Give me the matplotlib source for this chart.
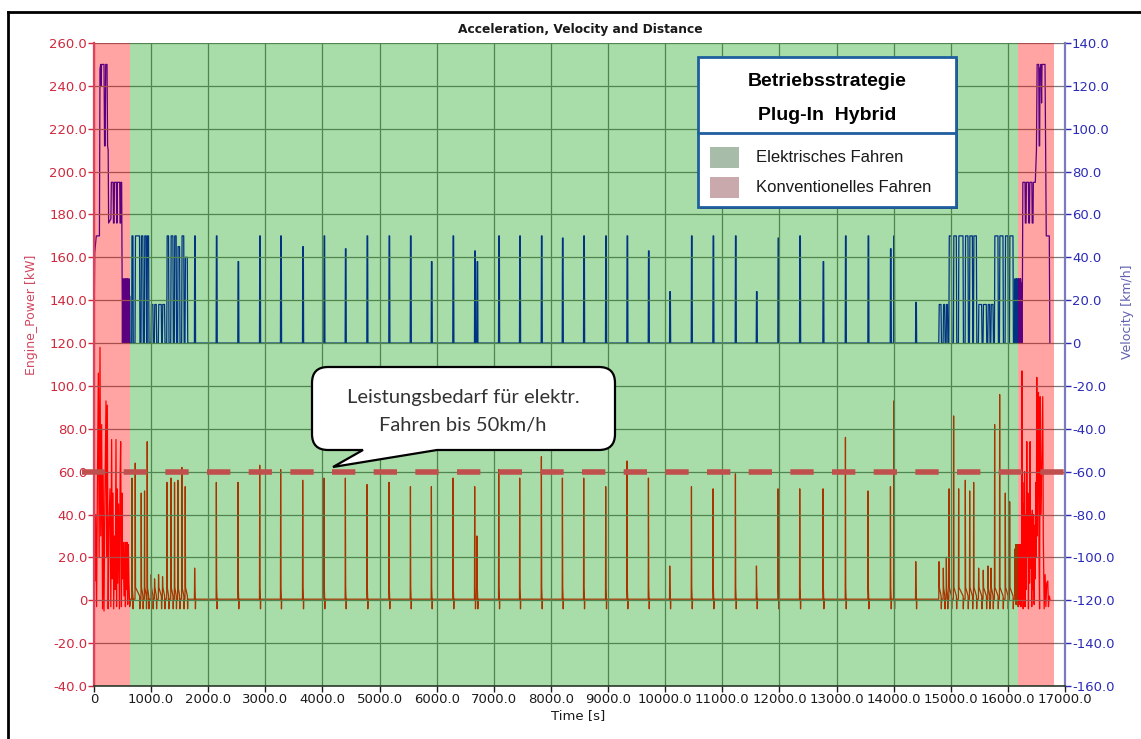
import matplotlib
matplotlib.use("Agg")
import matplotlib.pyplot as plt
from matplotlib.patches import Rectangle, PathPatch
from matplotlib.path import Path
from matplotlib.lines import Line2D
from matplotlib.ticker import MultipleLocator, FuncFormatter

W, H = 1141, 739

# ---- data -------------------------------------------------------------------
# motorway start (conventional): velocity knots [s, km/h], power knots [s, kW]
start_t = [0, 12, 40, 95, 105, 118, 125, 132, 175, 185, 195, 205, 228, 238, 248,
           256, 296, 304, 335, 341, 352, 358, 392, 398, 404, 410, 450, 456, 466,
           472, 484, 492, 498, 504, 510, 516, 522, 528, 534, 540, 546, 552, 558,
           564, 570, 576, 582, 588, 594, 600, 606, 612, 618, 624, 632]
start_v = [0, 42, 50, 50, 128, 130, 120, 130, 130, 92, 92, 130, 130, 92, 90,
           56, 58, 75, 75, 56, 56, 75, 75, 56, 56, 75, 75, 56, 56,
           75, 75, 30, 0, 30, 2, 28, 0, 30, 0, 25, 0, 30, 0,
           28, 0, 30, 0, 30, 0, 26, 0, 30, 0, 22, 0]
start_pt = [0, 8, 18, 30, 45, 60, 76, 90, 105, 118, 134, 150, 160, 175, 190,
            210, 222, 233, 248, 262, 280, 295, 309, 320, 333, 345, 360, 372,
            385, 395, 403, 415, 430, 445, 458, 467, 480, 490, 500, 512, 525,
            540, 550, 560, 570, 580, 590, 600, 612, 625, 640]
start_p = [0, 26, 9, 40, -3, 55, 106, 20, 118, 30, 82, -4, 60, -5, 45,
           93, 20, 91, -4, 35, 52, -3, 75, 10, 50, -4, 30, 5,
           75, -3, 52, 8, 45, -4, 60, 74, -3, 50, 10, 27, 2,
           27, -3, 27, 5, 27, -2, 26, 8, -3, 0.5]

# stop-and-go pulses after the start: begin, end [s], peak v, peak power
city1_t0 = [660, 718, 823, 881, 928, 998, 1056, 1126, 1196, 1273, 1343, 1406, 1464, 1534, 1593]
city1_t1 = [687, 805, 863, 921, 963, 1038, 1098, 1185, 1243, 1313, 1389, 1446, 1506, 1579, 1641]
city1_v = [50, 50, 50, 50, 50, 18, 18, 18, 18, 50, 50, 50, 45, 50, 40]
city1_p = [57, 64, 50, 51, 74, 12, 10, 12, 11, 55, 57, 55, 56, 62, 53]

# single trips through the long electric stretch: centre [s], peak v, peak power
trip_t = [1768, 2148, 2527, 2907, 3274, 3660, 4033, 4407, 4786, 5171, 5546, 5913,
          6291, 6671, 6712, 7092, 7459, 7839, 8207, 8580, 8965, 9338, 9713, 10086,
          10466, 10844, 11236, 11604, 11982, 12362, 12770, 13162, 13558, 13950,
          14008, 14393]
trip_v = [50, 50, 38, 50, 50, 45, 50, 44, 50, 50, 50, 38,
          50, 43, 38, 50, 50, 50, 49, 50, 50, 50, 43, 24,
          50, 50, 50, 24, 49, 50, 38, 50, 50, 44,
          50, 19]
trip_p = [15, 55, 55, 63, 61, 56, 57, 57, 54, 55, 53, 53,
          57, 53, 30, 61, 57, 67, 57, 57, 53, 65, 57, 16,
          53, 52, 59, 16, 52, 52, 52, 76, 51, 53,
          93, 18]

# stop-and-go before the end
city2_t0 = [14790, 14866, 14919, 14966, 15046, 15134, 15251, 15327, 15397,
            15484, 15565, 15648, 15701, 15764, 15852, 15951, 16027]
city2_t1 = [14837, 14901, 14950, 15018, 15105, 15222, 15309, 15386, 15456,
            15548, 15630, 15688, 15747, 15834, 15922, 16009, 16097]
city2_v = [18, 18, 18, 50, 50, 50, 50, 50, 50, 18, 18, 18, 18, 50, 50, 50, 50]
city2_p = [18, 15, 20, 52, 86, 52, 56, 51, 55, 15, 14, 16, 15, 82, 96, 50, 46]

# motorway end (conventional)
end_t = [16120, 16126, 16132, 16138, 16144, 16150, 16156, 16162, 16168, 16174,
         16180, 16186, 16192, 16198, 16204, 16210, 16216, 16222, 16228, 16234,
         16240, 16250, 16262, 16300, 16306, 16318, 16324, 16360, 16366, 16378,
         16384, 16420, 16426, 16440, 16446, 16480, 16500, 16512, 16540, 16548,
         16556, 16562, 16580, 16590, 16598, 16650, 16672, 16725, 16735]
end_v = [0, 30, 0, 28, 2, 30, 0, 30, 0, 26,
         0, 30, 3, 28, 0, 30, 0, 30, 0, 28,
         0, 0, 75, 75, 56, 56, 75, 75, 56, 56,
         75, 75, 56, 56, 75, 75, 90, 130, 130, 92,
         92, 128, 130, 112, 130, 130, 50, 50, 0]
end_pt = [16120, 16126, 16132, 16138, 16144, 16150, 16156, 16162, 16168, 16174,
          16180, 16186, 16192, 16198, 16204, 16210, 16216, 16222, 16228, 16234,
          16240, 16246, 16252, 16260, 16268, 16276, 16284, 16292, 16300, 16310,
          16320, 16331, 16340, 16350, 16360, 16370, 16380, 16389, 16398, 16408,
          16418, 16428, 16438, 16450, 16460, 16470, 16480, 16490, 16498, 16506,
          16514, 16522, 16535, 16545, 16555, 16564, 16575, 16590, 16610, 16620,
          16635, 16652, 16665, 16680, 16698, 16710, 16725, 16740]
end_p = [0.5, 24, 2, 26, -2, 25, 3, 26, 0, 25,
         -3, 26, 4, 25, -2, 26, 2, 25, -3, 26,
         0, 107, 20, 55, -4, 45, 10, 60, -3, 40,
         5, 74, 20, 50, -4, 45, 8, 74, 15, 40,
         -3, 42, 5, 40, -2, 35, 10, 55, 20, 104,
         30, 60, 97, 20, -4, 95, 40, 60, 95, 30,
         -4, 12, -3, 8, 9, -3, 2, 0]

conv_zones = [(0, 630), (16180, 16810)]
elec_zone = (630, 16180)
limit_kw = 60

# ---- assemble the traces -----------------------------------------------------
p0 = list(zip(city1_t0, city1_t1, city1_v, city1_p))
p1 = [(t - 10, t + 10, v, p) for t, v, p in zip(trip_t, trip_v, trip_p)]
p2 = list(zip(city2_t0, city2_t1, city2_v, city2_p))

vel_t, vel_v = list(start_t), list(start_v)
pow_t, pow_p = list(start_pt), list(start_p)
for a, b, v, p in p0 + p1 + p2:
    rmp = 5 if b - a < 30 else 8
    vel_t += [a, a + rmp, b - rmp, b]
    vel_v += [0, v, v, 0]
    pow_t += [a, a + 4, a + 9, b - 6, b - 2, b + 3]
    pow_p += [0.5, p, 6, 2, -4, 0.5]
vel_t += end_t; vel_v += end_v
pow_t += end_pt; pow_p += end_p

# ---- figure ------------------------------------------------------------------
fig = plt.figure(figsize=(W / 100, H / 100), dpi=100, facecolor="white")
ax = fig.add_axes([94 / W, 1 - 686 / H, 971 / W, 643 / H])
ax2 = ax.twinx()
ax.set_zorder(2); ax2.set_zorder(1)
ax.patch.set_visible(False)

PRED, VBLUE = "#d0283c", "#2b2bb8"

ax2.plot(vel_t, vel_v, color="#0000c8", lw=0.9, zorder=2)
ax.plot(pow_t, pow_p, color="#ff0000", lw=0.9, zorder=1)

for a, b in conv_zones:
    ax.axvspan(a, b, color=(1, 0, 0), alpha=0.36, lw=0, zorder=2)
ax.axvspan(*elec_zone, color=(0, 0.6, 0), alpha=0.34, lw=0, zorder=2)

ax.plot([-210, 17055], [limit_kw, limit_kw], color="#c0504d", lw=4,
        dashes=(4.2, 3.3), clip_on=False, zorder=4, solid_capstyle="butt",
        dash_capstyle="butt")

ax.set_xlim(0, 17000)
ax.set_ylim(-40, 260)
ax2.set_ylim(-160, 140)

fmt = FuncFormatter(lambda v, pos: "0" if abs(v) < 1e-9 else f"{v:.1f}")
ax.xaxis.set_major_locator(MultipleLocator(1000))
ax.yaxis.set_major_locator(MultipleLocator(20))
ax2.yaxis.set_major_locator(MultipleLocator(20))
for a_ in (ax.xaxis, ax.yaxis, ax2.yaxis):
    a_.set_major_formatter(fmt)

ax.grid(True, color="#7a7a7a", lw=0.9)
ax.tick_params(axis="x", colors="#1a1a1a", labelsize=9.5, length=4, width=1, pad=1)
ax.tick_params(axis="y", colors=PRED, labelsize=9.5, length=4, width=1, pad=1)
ax2.tick_params(axis="y", colors=VBLUE, labelsize=9.5, length=4, width=1, pad=1)

for s in ("top", "right"):
    ax.spines[s].set_visible(False)
for s in ("top", "left", "bottom"):
    ax2.spines[s].set_visible(False)
ax.spines["left"].set_color("#e0405a"); ax.spines["left"].set_linewidth(1.6)
ax.spines["bottom"].set_color("#2a3a2a"); ax.spines["bottom"].set_linewidth(1.2)
ax2.spines["right"].set_color("#7a7ac8"); ax2.spines["right"].set_linewidth(1.6)

ax.set_ylabel("Engine_Power [kW]", color="#d04860", fontsize=9)
ax.yaxis.set_label_coords((38 - 94) / 971, 1 - (315 - 43) / 643)
ax2.set_ylabel("Velocity [km/h]", color="#6060b0", fontsize=9)
ax2.yaxis.set_label_coords((1121 - 94) / 971, 1 - (312 - 43) / 643)


def px(x, y):
    return (x / W, 1 - y / H)


fig.text(*px(580, 30), "Acceleration, Velocity and Distance", fontsize=8.8,
         fontweight="bold", ha="center", va="center", color="#1a1a1a")
fig.text(*px(578, 716), "Time [s]", fontsize=9.5, ha="center", va="center",
         color="#1a1a1a")

# outer frame (left and top edges visible)
fig.add_artist(Line2D([8 / W, 8 / W], [0, 1 - 12 / H], color="black", lw=2))
fig.add_artist(Line2D([8 / W, 1], [1 - 12 / H, 1 - 12 / H], color="black", lw=2))

# ---- strategy box --------------------------------------------------------------
fig.add_artist(Rectangle(px(700, 209), 258 / W, 150 / H, transform=fig.transFigure,
                         facecolor="#303030", edgecolor="none", zorder=5))
fig.add_artist(Rectangle(px(698, 207), 258 / W, 150 / H, transform=fig.transFigure,
                         facecolor="white", edgecolor="#1f5f9f", lw=2, zorder=6))
fig.add_artist(Line2D([698 / W, 956 / W], [1 - 133 / H, 1 - 133 / H],
                      color="#1f5f9f", lw=2, zorder=7))
lfont = ["Liberation Sans", "DejaVu Sans"]
fig.text(*px(827, 82), "Betriebsstrategie", fontsize=14, fontweight="bold",
         ha="center", va="center", family=lfont, zorder=8)
fig.text(*px(827, 116), "Plug-In  Hybrid", fontsize=14, fontweight="bold",
         ha="center", va="center", family=lfont, zorder=8)
for yy, col, lab in [(157, "#a8bcaa", "Elektrisches Fahren"),
                     (187, "#c9a9ab", "Konventionelles Fahren")]:
    fig.add_artist(Rectangle(px(710, yy + 11), 29 / W, 21 / H,
                             transform=fig.transFigure, facecolor=col,
                             edgecolor="none", zorder=7))
    fig.text(*px(756, yy), lab, fontsize=12, ha="left", va="center",
             family=lfont, color="#1a1a1a", zorder=8)

# ---- speech bubble -------------------------------------------------------------
r = 16
x0, x1, y0, y1 = 312, 615, 367, 450
verts = [(x0 + r, y0), (x1 - r, y0), (x1, y0), (x1, y0 + r), (x1, y1 - r),
         (x1, y1), (x1 - r, y1), (437, y1), (333, 467), (363, y1), (x0 + r, y1),
         (x0, y1), (x0, y1 - r), (x0, y0 + r), (x0, y0), (x0 + r, y0)]
codes = [Path.MOVETO, Path.LINETO, Path.CURVE3, Path.CURVE3, Path.LINETO,
         Path.CURVE3, Path.CURVE3, Path.LINETO, Path.LINETO, Path.LINETO,
         Path.LINETO, Path.CURVE3, Path.CURVE3, Path.LINETO, Path.CURVE3,
         Path.CURVE3]
fig.add_artist(PathPatch(Path([px(*v) for v in verts], codes),
                         transform=fig.transFigure, facecolor="white",
                         edgecolor="black", lw=1.6, zorder=9))
bfont = ["Lato", "DejaVu Sans"]
fig.text(*px(463, 397), "Leistungsbedarf für elektr.", fontsize=14.5,
         ha="center", va="center", family=bfont, color="#333333", zorder=10)
fig.text(*px(463, 426), "Fahren bis 50km/h", fontsize=14.5,
         ha="center", va="center", family=bfont, color="#333333", zorder=10)

fig.savefig("out.png", dpi=100, facecolor="white")
